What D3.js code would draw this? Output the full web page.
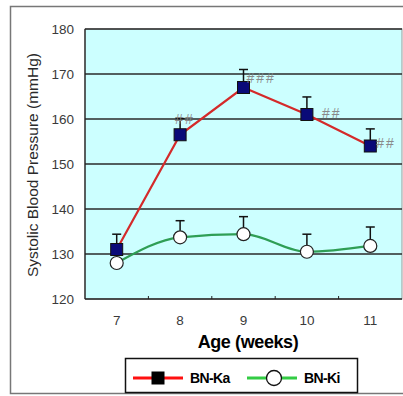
<!DOCTYPE html>
<html lang="en">
<head>
<meta charset="UTF-8">
<style>
    body { margin: 0; background: #fff; }
    text { font-family: "Liberation Sans", Arial, sans-serif; }
</style>
</head>
<body>
<div id="chart"></div>
<script src="https://cdn.jsdelivr.net/npm/d3@7/dist/d3.min.js"></script>
<script>
    // data
    var weeks = [7, 8, 9, 10, 11];
    var kaMean = [131, 156.5, 167, 161, 154];
    var kaErr = [3.4, 3.6, 4, 3.9, 3.8];
    var kiMean = [128, 133.7, 134.4, 130.5, 131.8];
    var kiErr = [3, 3.7, 3.9, 3.9, 4.2];
    var kaSig = ["", "##", "###", "##", "##"];
    var yTicks = [120, 130, 140, 150, 160, 170, 180];
    var seriesNames = ["BN-Ka", "BN-Ki"];

    var W = 403, H = 396;
    var plot = { left: 85, right: 402, top: 29, bottom: 299 };

    var svg = d3.select("#chart").append("svg")
        .attr("width", W).attr("height", H);

    // outer frame
    svg.append("rect")
        .attr("x", 10.5).attr("y", 6.5)
        .attr("width", 420).attr("height", 387)
        .attr("fill", "#fff").attr("stroke", "#777").attr("stroke-width", 1.5);

    var x = d3.scaleBand().domain(weeks).range([plot.left, plot.right]).padding(0);
    var cx = function (d) { return x(d) + x.bandwidth() / 2; };
    var y = d3.scaleLinear().domain([120, 180]).range([plot.bottom, plot.top]);

    // plot area
    svg.append("rect")
        .attr("x", plot.left).attr("y", plot.top)
        .attr("width", plot.right - plot.left).attr("height", plot.bottom - plot.top)
        .attr("fill", "#ccffff").attr("stroke", "#999").attr("stroke-width", 1);

    // grid lines
    svg.selectAll(".grid")
        .data(yTicks.slice(1))
        .enter().append("line")
        .attr("x1", plot.left).attr("x2", plot.right)
        .attr("y1", function (d) { return y(d); })
        .attr("y2", function (d) { return y(d); })
        .attr("stroke", "#2a2a2a").attr("stroke-width", 1.3);

    // axis lines
    svg.append("line")
        .attr("x1", plot.left).attr("x2", plot.left)
        .attr("y1", plot.top).attr("y2", plot.bottom)
        .attr("stroke", "#222").attr("stroke-width", 1.3);
    svg.append("line")
        .attr("x1", plot.left).attr("x2", plot.right)
        .attr("y1", plot.bottom).attr("y2", plot.bottom)
        .attr("stroke", "#222").attr("stroke-width", 1.3);

    // small ticks between categories
    svg.selectAll(".xtick")
        .data(weeks.slice(1))
        .enter().append("line")
        .attr("x1", function (d) { return x(d); })
        .attr("x2", function (d) { return x(d); })
        .attr("y1", plot.bottom).attr("y2", plot.bottom - 3)
        .attr("stroke", "#222");

    // y tick labels
    svg.selectAll(".ylab")
        .data(yTicks)
        .enter().append("text")
        .attr("x", 74)
        .attr("y", function (d) { return y(d) + 5; })
        .attr("text-anchor", "end")
        .attr("fill", "#3a3a3a")
        .style("font-size", "13.5px")
        .text(function (d) { return d; });

    // x tick labels
    svg.selectAll(".xlab")
        .data(weeks)
        .enter().append("text")
        .attr("x", cx)
        .attr("y", 325)
        .attr("text-anchor", "middle")
        .attr("fill", "#3a3a3a")
        .style("font-size", "13.5px")
        .text(function (d) { return d; });

    // axis titles
    svg.append("text")
        .attr("transform", "translate(38,165) rotate(-90)")
        .attr("text-anchor", "middle")
        .attr("fill", "#2a2a2a")
        .style("font-size", "15.5px")
        .text("Systolic Blood Pressure (mmHg)");

    svg.append("text")
        .attr("x", 248).attr("y", 348)
        .attr("text-anchor", "middle")
        .style("font-size", "18px")
        .style("font-weight", "bold")
        .style("letter-spacing", "-0.4px")
        .text("Age (weeks)");

    var red = "#d42a2a", green = "#2f9e55";

    var ki = weeks.map(function (w, i) { return { w: w, v: kiMean[i], e: kiErr[i] }; });
    var ka = weeks.map(function (w, i) { return { w: w, v: kaMean[i], e: kaErr[i], s: kaSig[i] }; });

    // BN-Ki (smoothed line)
    svg.append("path")
        .datum(ki)
        .attr("fill", "none").attr("stroke", green).attr("stroke-width", 2.2)
        .attr("d", d3.line().curve(d3.curveMonotoneX)
            .x(function (d) { return cx(d.w); })
            .y(function (d) { return y(d.v); }));

    function errorBars(data, cls) {
        var g = svg.selectAll("." + cls).data(data).enter().append("g");
        g.append("line")
            .attr("x1", function (d) { return cx(d.w); })
            .attr("x2", function (d) { return cx(d.w); })
            .attr("y1", function (d) { return y(d.v); })
            .attr("y2", function (d) { return y(d.v + d.e); })
            .attr("stroke", "#111").attr("stroke-width", 1.5);
        g.append("line")
            .attr("x1", function (d) { return cx(d.w) - 4.5; })
            .attr("x2", function (d) { return cx(d.w) + 4.5; })
            .attr("y1", function (d) { return y(d.v + d.e); })
            .attr("y2", function (d) { return y(d.v + d.e); })
            .attr("stroke", "#111").attr("stroke-width", 1.5);
    }

    errorBars(ki, "kierr");

    svg.selectAll(".kidot")
        .data(ki).enter().append("circle")
        .attr("cx", function (d) { return cx(d.w); })
        .attr("cy", function (d) { return y(d.v); })
        .attr("r", 6.5)
        .attr("fill", "#fff").attr("stroke", "#222").attr("stroke-width", 1.2);

    // BN-Ka
    svg.append("path")
        .datum(ka)
        .attr("fill", "none").attr("stroke", red).attr("stroke-width", 2.2)
        .attr("d", d3.line()
            .x(function (d) { return cx(d.w); })
            .y(function (d) { return y(d.v); }));

    errorBars(ka, "kaerr");

    svg.selectAll(".kadot")
        .data(ka).enter().append("rect")
        .attr("x", function (d) { return cx(d.w) - 6; })
        .attr("y", function (d) { return y(d.v) - 6; })
        .attr("width", 12).attr("height", 12)
        .attr("fill", "#0a0a78").attr("stroke", "#111").attr("stroke-width", 1);

    // significance marks, offset from the point
    var sigDx = [0, -5, 3, 15, 6];
    var sigDy = [0, -16, -10, -1.5, -3];
    svg.selectAll(".sig")
        .data(ka).enter().append("text")
        .attr("x", function (d, i) { return cx(d.w) + sigDx[i]; })
        .attr("y", function (d, i) { return y(d.v) + sigDy[i] + 5; })
        .attr("fill", "#8a8a8a")
        .style("font-size", "14px")
        .style("letter-spacing", "2px")
        .text(function (d) { return d.s; });

    // legend
    var lg = svg.append("g");
    lg.append("rect")
        .attr("x", 125.5).attr("y", 358.5)
        .attr("width", 232).attr("height", 34)
        .attr("fill", "#fff").attr("stroke", "#111").attr("stroke-width", 1.5);

    var legendX = [133, 247];
    seriesNames.forEach(function (name, i) {
        var x0 = legendX[i], ly = 378;
        lg.append("line")
            .attr("x1", x0).attr("x2", x0 + 50)
            .attr("y1", ly).attr("y2", ly)
            .attr("stroke", i === 0 ? "#ff1010" : "#33cc44").attr("stroke-width", 3);
        if (i === 0) {
            lg.append("rect")
                .attr("x", x0 + 25 - 6.5).attr("y", ly - 6.5)
                .attr("width", 13).attr("height", 13)
                .attr("fill", "#000");
        } else {
            lg.append("circle")
                .attr("cx", x0 + 27).attr("cy", ly).attr("r", 7.5)
                .attr("fill", "#fff").attr("stroke", "#111").attr("stroke-width", 1.3);
        }
        lg.append("text")
            .attr("x", x0 + 57).attr("y", ly + 5)
            .style("font-size", "14px")
            .style("font-weight", "bold")
            .style("letter-spacing", "-0.6px")
            .text(name);
    });
</script>
</body>
</html>
